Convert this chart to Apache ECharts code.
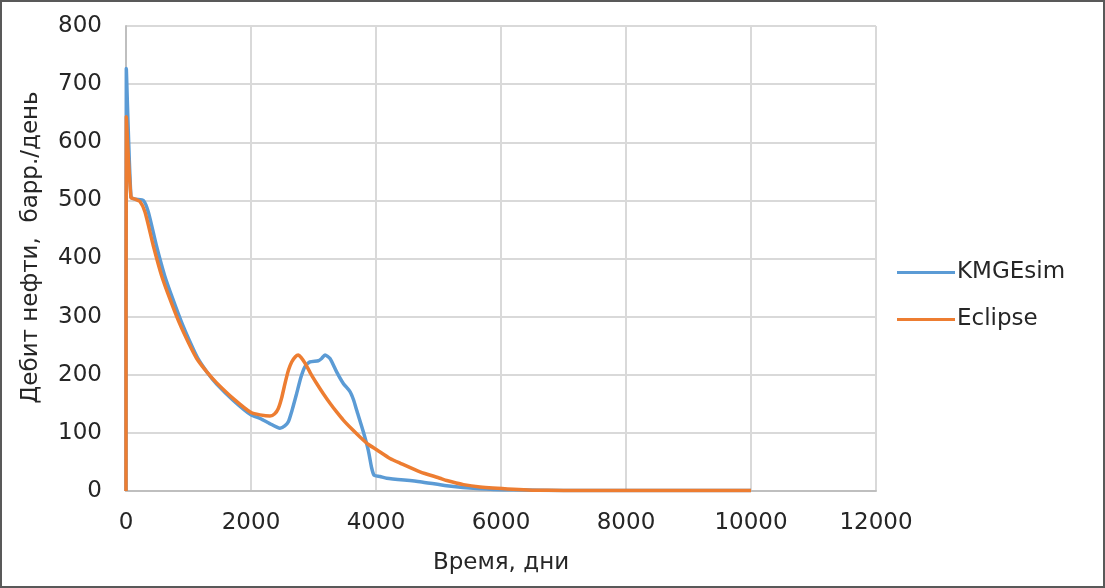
<!DOCTYPE html>
<html><head><meta charset="utf-8">
<script src="https://cdn.jsdelivr.net/npm/echarts@6/dist/echarts.min.js"></script>
<style>html,body{margin:0;padding:0;background:#fff}#c{width:1105px;height:588px}</style>
</head><body><div id="c"></div>
<script>
const seriesNames = ['KMGEsim', 'Eclipse'];
const xTitle = 'Время, дни';
const yTitle = 'Дебит нефти,  барр./день';
const kmgesim = [[0,0],[5,727],[80,505],[150,502],[277,500],[357,480],[487,422],[620,370],[750,330],[890,290],[1030,255],[1150,228],[1300,204],[1451,184],[1717,156],[2000,131],[2144,125],[2300,116],[2464,108],[2540,112],[2597,119],[2660,140],[2731,168],[2800,196],[2864,214],[2944,222],[3077,224],[3130,228],[3184,234],[3264,228],[3370,205],[3477,185],[3584,171],[3640,157],[3691,139],[3797,102],[3877,70],[3930,40],[3970,27],[4064,25],[4171,22],[4704,16],[5131,9],[5664,4],[6200,2],[7000,1],[8000,1],[10000,1]];
const eclipse = [[0,0],[5,644],[80,505],[150,502],[224,498],[304,480],[437,422],[571,370],[704,330],[850,290],[1000,255],[1131,228],[1300,204],[1451,186],[1717,159],[2000,135],[2144,131],[2304,129],[2380,133],[2437,142],[2490,160],[2544,185],[2600,208],[2651,222],[2710,231],[2757,234],[2800,230],[2864,220],[2950,203],[3051,185],[3160,167],[3264,151],[3370,136],[3477,122],[3610,107],[3744,93],[3880,80],[4011,71],[4224,56],[4384,48],[4704,33],[5024,22],[5131,18],[5400,11],[5664,7],[6197,3],[6500,1.5],[7000,1],[8000,1],[10000,1]];
const xMin = 0, xMax = 12000, xStep = 2000;
const yMin = 0, yMax = 800, yStep = 100;

const chart = echarts.init(document.getElementById('c'));
const txt = '#262626';
const font = 'DejaVu Sans, sans-serif';
chart.setOption({
  animation: false,
  grid: {left: 126, right: 229, top: 26, bottom: 97},
  graphic: [{type:'rect', shape:{x:1,y:1,width:1103,height:586}, style:{fill:'none', stroke:'#595959', lineWidth:2}, silent:true}],
  legend: {
    orient: 'vertical', left: 892, top: 256, itemWidth: 58, itemHeight: 3, itemGap: 24,
    icon: 'rect',
    textStyle: {color: txt, fontSize: 23, fontFamily: font, padding: [0,0,0,-3]},
    data: seriesNames
  },
  xAxis: {
    type: 'value', min: xMin, max: xMax, interval: xStep,
    name: xTitle, nameLocation: 'middle', nameGap: 61,
    nameTextStyle: {color: txt, fontSize: 23, fontFamily: font},
    axisLine: {show: true, lineStyle: {color: '#bfbfbf', width: 2}},
    axisTick: {show: false},
    axisLabel: {color: txt, fontSize: 23, fontFamily: font, margin: 21, formatter: v => String(v)},
    splitLine: {show: true, lineStyle: {color: '#d9d9d9', width: 2}}
  },
  yAxis: {
    type: 'value', min: yMin, max: yMax, interval: yStep,
    name: yTitle, nameLocation: 'middle', nameGap: 83, nameRotate: 90,
    nameTextStyle: {color: txt, fontSize: 23, fontFamily: font, padding: [0,0,0,22]},
    axisLine: {show: true, lineStyle: {color: '#bfbfbf', width: 2}},
    axisTick: {show: false},
    axisLabel: {color: txt, fontSize: 23, fontFamily: font, margin: 24},
    splitLine: {show: true, lineStyle: {color: '#d9d9d9', width: 2}}
  },
  series: [
    {name: seriesNames[0], type: 'line', data: kmgesim, showSymbol: false, symbol: 'none',
     lineStyle: {color: '#5b9bd5', width: 3.5, join: 'round'}, itemStyle: {color: '#5b9bd5'}, smooth: 0.2},
    {name: seriesNames[1], type: 'line', data: eclipse, showSymbol: false, symbol: 'none',
     lineStyle: {color: '#ed7d31', width: 3.5, join: 'round'}, itemStyle: {color: '#ed7d31'}, smooth: 0.2}
  ]
});
</script></body></html>
